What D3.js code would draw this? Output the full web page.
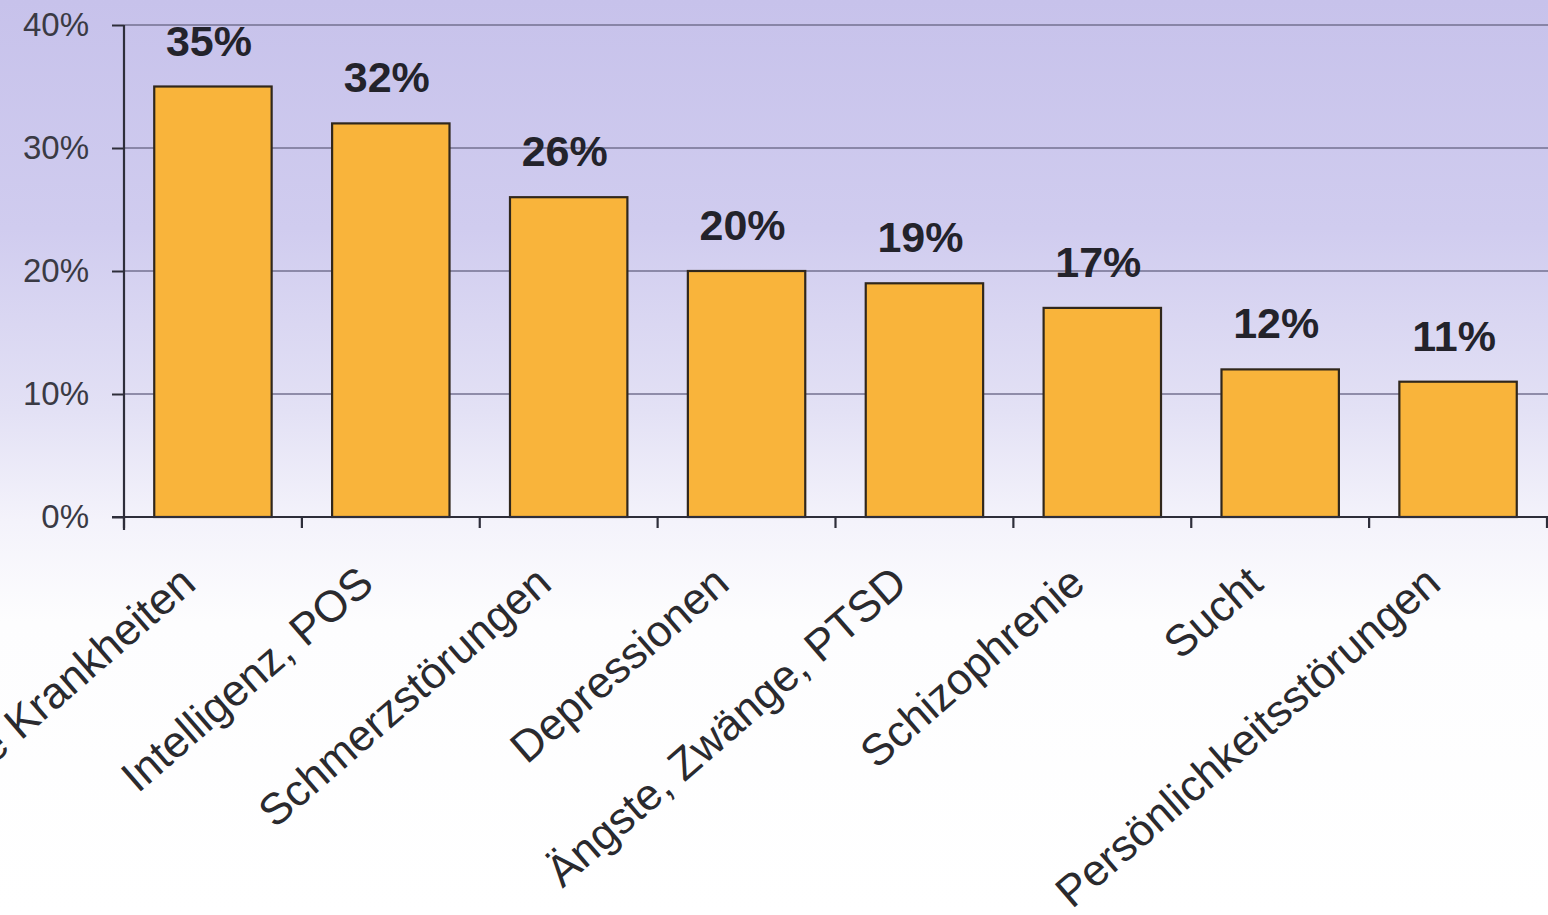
<!DOCTYPE html>
<html>
<head>
<meta charset="utf-8">
<script src="https://cdn.jsdelivr.net/npm/d3@7"></script>
<style>
  html, body { margin: 0; padding: 0; background: #fff; }
  svg { display: block; }
</style>
</head>
<body>
<svg id="chart" width="1548" height="915"></svg>
<script>
const categories = [
  "Körperliche Krankheiten",
  "Intelligenz, POS",
  "Schmerzstörungen",
  "Depressionen",
  "Ängste, Zwänge, PTSD",
  "Schizophrenie",
  "Sucht",
  "Persönlichkeitsstörungen"
];
const values = [35, 32, 26, 20, 19, 17, 12, 11];
const yTicks = [0, 10, 20, 30, 40];

const W = 1548, H = 915;
const svg = d3.select("#chart");

// background gradient
const defs = svg.append("defs");
const grad = defs.append("linearGradient")
  .attr("id", "bg").attr("gradientUnits", "userSpaceOnUse")
  .attr("x1", 0).attr("y1", 0).attr("x2", 0).attr("y2", H);
[[0, "#c7c2eb"], [0.25, "#d0ccef"], [0.45, "#e3e1f5"], [0.57, "#f4f3fb"], [0.68, "#fdfdfe"], [1, "#ffffff"]]
  .forEach(([o, c]) => grad.append("stop").attr("offset", o).attr("stop-color", c));
svg.append("rect").attr("width", W).attr("height", H).attr("fill", "url(#bg)");

const x0 = 124, x1 = 1547, yTop = 25, yBot = 517;
const x = d3.scaleBand().domain(categories).range([x0, x1]).paddingInner(0.34).paddingOuter(0.17);
const y = d3.scaleLinear().domain([0, 40]).range([yBot, yTop]);

// gridlines
svg.append("g").selectAll("line").data(yTicks.filter(d => d > 0)).join("line")
  .attr("x1", x0).attr("x2", W).attr("y1", d => y(d)).attr("y2", d => y(d))
  .attr("stroke", "#737090").attr("stroke-width", 1.6);

// bars
svg.append("g").selectAll("rect").data(values).join("rect")
  .attr("x", (d, i) => x(categories[i]))
  .attr("y", d => y(d))
  .attr("width", x.bandwidth())
  .attr("height", d => y(0) - y(d))
  .attr("fill", "#f9b43b")
  .attr("stroke", "#30271c")
  .attr("stroke-width", 2.2);

// y axis
const yAxis = d3.axisLeft(y).tickValues(yTicks).tickFormat(d => d + "%").tickSize(12).tickPadding(23);
const gy = svg.append("g").attr("transform", `translate(${x0},0)`).call(yAxis);
gy.select(".domain").remove();
gy.selectAll(".tick line").attr("stroke", "#2e2e3a").attr("stroke-width", 2);
gy.selectAll(".tick text")
  .attr("font-family", "Liberation Sans, Arial, sans-serif")
  .attr("font-size", 33).attr("fill", "#3a3a44");
svg.append("line").attr("x1", x0).attr("x2", x0).attr("y1", yTop).attr("y2", yBot + 13)
  .attr("stroke", "#2e2e3a").attr("stroke-width", 2.2);

// x axis line + category boundary ticks
svg.append("line").attr("x1", x0 - 12).attr("x2", W).attr("y1", yBot).attr("y2", yBot)
  .attr("stroke", "#2e2e3a").attr("stroke-width", 2.2);
const bounds = d3.range(categories.length + 1).map(i => x0 + i * x.step());
svg.append("g").selectAll("line").data(bounds).join("line")
  .attr("x1", d => d).attr("x2", d => d).attr("y1", yBot).attr("y2", yBot + 11)
  .attr("stroke", "#2e2e3a").attr("stroke-width", 2.2);

// category labels
svg.append("g").selectAll("text").data(categories).join("text")
  .attr("transform", d => `translate(${x(d) + x.bandwidth() / 2 - 15},${yBot + 70}) rotate(-41)`)
  .attr("text-anchor", "end")
  .attr("font-family", "Liberation Sans, Arial, sans-serif")
  .attr("font-size", 44).attr("fill", "#2a2a2e")
  .text(d => d);

// value labels
svg.append("g").selectAll("text").data(values).join("text")
  .attr("x", (d, i) => x(categories[i]) + x.bandwidth() / 2 - 4)
  .attr("y", d => y(d) - 31)
  .attr("text-anchor", "middle")
  .attr("font-family", "Liberation Sans, Arial, sans-serif")
  .attr("font-weight", "bold")
  .attr("font-size", 43).attr("fill", "#23232b")
  .text(d => d + "%");
</script>
</body>
</html>
